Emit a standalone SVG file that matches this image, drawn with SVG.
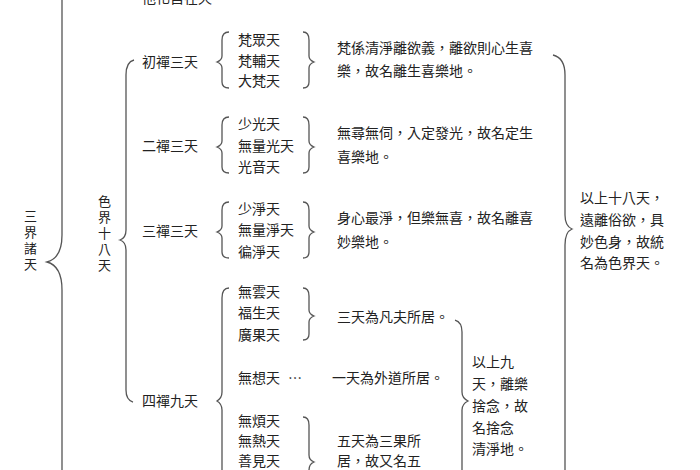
<svg xmlns="http://www.w3.org/2000/svg" width="700" height="470" viewBox="0 0 700 470">
<style>
text{font-family:"Noto Sans CJK TC","Noto Sans CJK SC",sans-serif;font-size:14px;fill:#222}
.v{font-size:13px}
.b{fill:none;stroke:#555;stroke-width:1.3}
</style>
<rect width="700" height="470" fill="#fff"/>
<g id="connectors">
<path class="b" d="M62,0 V235 Q62,258 47,262 Q62,266 62,290 V470"/>
<path class="b" d="M134,60 Q126,62 126,75 V230 Q126,238 120,240 Q126,242 126,250 V390 Q126,400 133,402"/>
<path class="b" d="M229,32 Q222,32 222,40 V56 Q222,60 217,62 Q222,64 222,68 V82 Q222,88 229,88"/>
<path class="b" d="M303,32 Q309,32 309,40 V56 Q309,60 314,62 Q309,64 309,68 V82 Q309,88 303,88"/>
<path class="b" d="M229,117 Q222,117 222,125 V141 Q222,145 217,147 Q222,149 222,153 V167 Q222,173 229,173"/>
<path class="b" d="M303,117 Q309,117 309,125 V141 Q309,145 314,147 Q309,149 309,153 V167 Q309,173 303,173"/>
<path class="b" d="M229,202 Q222,202 222,210 V226 Q222,230 217,232 Q222,234 222,238 V252 Q222,258 229,258"/>
<path class="b" d="M303,202 Q309,202 309,210 V226 Q309,230 314,232 Q309,234 309,238 V252 Q309,258 303,258"/>
<path class="b" d="M553,55 Q565,58 565,75 V215 Q565,226 572,229 Q565,232 565,245 V470"/>
<path class="b" d="M229,288 Q222,288 222,298 V392 Q222,398 217,401 Q222,404 222,410 V470"/>
<path class="b" d="M303,288 Q309,288 309,296 V310 Q309,314 314,316 Q309,318 309,322 V334 Q309,340 303,340"/>
<path class="b" d="M303,417 Q309,417 309,425 V455 Q309,460 314,462 Q309,464 309,470"/>
<path class="b" d="M455,320 Q462,322 462,332 V392 Q462,398 468,401 Q462,404 462,410 V470"/>
</g>
<g id="top"><text x="142" y="3">他化自在天</text></g>
<g id="sanjie"><text class="v" x="24" y="221">三</text><text class="v" x="24" y="237">界</text><text class="v" x="24" y="253">諸</text><text class="v" x="24" y="269">天</text></g>
<g id="sejie"><text class="v" x="98" y="206">色</text><text class="v" x="98" y="222">界</text><text class="v" x="98" y="238">十</text><text class="v" x="98" y="254">八</text><text class="v" x="98" y="270">天</text></g>
<g id="chan1"><text x="142" y="67">初禪三天</text><text x="238" y="45">梵眾天</text><text x="238" y="66">梵輔天</text><text x="238" y="86">大梵天</text><text x="337" y="53">梵係清淨離欲義，離欲則心生喜</text><text x="337" y="76">樂，故名離生喜樂地。</text></g>
<g id="chan2"><text x="142" y="151">二禪三天</text><text x="238" y="129">少光天</text><text x="238" y="151">無量光天</text><text x="238" y="172">光音天</text><text x="337" y="138">無尋無伺，入定發光，故名定生</text><text x="337" y="162">喜樂地。</text></g>
<g id="chan3"><text x="142" y="236">三禪三天</text><text x="238" y="214">少淨天</text><text x="238" y="235">無量淨天</text><text x="238" y="257">徧淨天</text><text x="337" y="223">身心最淨，但樂無喜，故名離喜</text><text x="337" y="247">妙樂地。</text></g>
<g id="summary18"><text x="580" y="203">以上十八天，</text><text x="580" y="225">遠離俗欲，具</text><text x="580" y="247">妙色身，故統</text><text x="580" y="268">名為色界天。</text></g>
<g id="chan4"><text x="142" y="406">四禪九天</text>
<text x="238" y="297">無雲天</text><text x="238" y="318">福生天</text><text x="238" y="340">廣果天</text><text x="337" y="322">三天為凡夫所居。</text>
<text x="238" y="383">無想天</text><text x="288" y="383" font-family="Liberation Sans">…</text><text x="332" y="383">一天為外道所居。</text>
<text x="238" y="426">無煩天</text><text x="238" y="446">無熱天</text><text x="238" y="466">善見天</text><text x="337" y="446">五天為三果所</text><text x="337" y="466">居，故又名五</text>
<text x="472" y="367">以上九</text><text x="472" y="389">天，離樂</text><text x="472" y="411">捨念，故</text><text x="472" y="433">名捨念</text><text x="472" y="454">清淨地。</text></g>
</svg>
